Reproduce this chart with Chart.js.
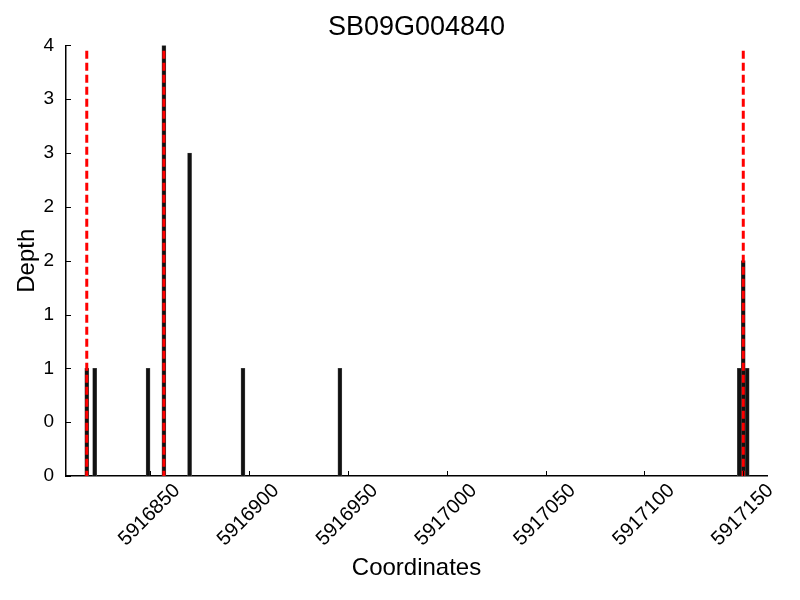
<!DOCTYPE html>
<html>
<head>
<meta charset="utf-8">
<title>SB09G004840</title>
<script src="https://cdn.jsdelivr.net/npm/chart.js@4.4.1/dist/chart.umd.min.js"></script>
<style>
    body { margin: 0; background: #fff; }
    #wrap { width: 800px; height: 600px; }
</style>
</head>
<body>
<div id="wrap"><canvas id="depthChart"></canvas></div>
<script>
// Data
const positions = [5916818, 5916822, 5916849, 5916857, 5916870, 5916897, 5916946, 5917148, 5917150, 5917152];
const depths = [1, 1, 1, 4, 3, 1, 1, 1, 2, 1];
const featureLines = [5916818, 5916857, 5917150];
const featureLineTop = 3.95;
const xTicks = [5916850, 5916900, 5916950, 5917000, 5917050, 5917100, 5917150];
const yTicks = [0, 0.5, 1, 1.5, 2, 2.5, 3, 3.5, 4];
const xRange = [5916807.5, 5917162];

Chart.defaults.font.family = "'Liberation Sans', Arial, sans-serif";
Chart.defaults.color = '#000';

// Small inward tick marks, like the original plot
const inwardTicks = {
    id: 'inwardTicks',
    afterDraw(chart) {
        const ctx = chart.ctx;
        const area = chart.chartArea;
        const x = chart.scales.x;
        const y = chart.scales.y;
        ctx.save();
        ctx.strokeStyle = '#000';
        ctx.lineWidth = 1;
        ctx.beginPath();
        y.ticks.forEach(t => {
            const py = Math.round(y.getPixelForValue(t.value)) + 0.5;
            ctx.moveTo(area.left, py);
            ctx.lineTo(area.left + 5, py);
        });
        x.ticks.forEach(t => {
            const px = Math.round(x.getPixelForValue(t.value)) + 0.5;
            ctx.moveTo(px, area.bottom);
            ctx.lineTo(px, area.bottom - 5);
        });
        ctx.stroke();
        ctx.restore();
    }
};

const barData = positions.map((p, i) => ({ x: p, y: depths[i] }));

const lineSets = featureLines.map(p => ({
    type: 'line',
    data: [{ x: p, y: featureLineTop }, { x: p, y: 0 }],
    borderColor: '#ff0000',
    borderWidth: 3,
    borderDash: [8, 4],
    pointRadius: 0,
    fill: false,
    order: 1
}));

new Chart(document.getElementById('depthChart'), {
    type: 'bar',
    data: {
        datasets: [{
            data: barData,
            backgroundColor: '#111',
            borderColor: '#555',
            borderWidth: 0.6,
            barThickness: 4,
            order: 2
        }, ...lineSets]
    },
    options: {
        responsive: true,
        maintainAspectRatio: false,
        animation: false,
        layout: { padding: { left: 0, right: 33, top: 0, bottom: 0 } },
        plugins: {
            legend: { display: false },
            tooltip: { enabled: false },
            title: {
                display: true,
                fullSize: false,
                text: 'SB09G004840',
                font: { size: 27, weight: 'normal' },
                color: '#000',
                padding: { top: 11, bottom: 2 }
            }
        },
        scales: {
            x: {
                type: 'linear',
                offset: false,
                min: xRange[0],
                max: xRange[1],
                afterBuildTicks: s => { s.ticks = xTicks.map(v => ({ value: v })); },
                afterFit: s => { s.height = 124; },
                grid: { display: false, drawTicks: false },
                border: { display: true, color: '#000', width: 1.5 },
                ticks: {
                    autoSkip: false,
                    minRotation: 45,
                    maxRotation: 45,
                    labelOffset: 27,
                    padding: 3,
                    font: { size: 20 },
                    callback: v => String(v)
                },
                title: {
                    display: true,
                    text: 'Coordinates',
                    font: { size: 24 },
                    padding: { top: 0, bottom: 17 }
                }
            },
            y: {
                min: 0,
                max: 4,
                afterBuildTicks: s => { s.ticks = yTicks.map(v => ({ value: v })); },
                afterFit: s => { s.width = 66; },
                grid: { display: false, drawTicks: false },
                border: { display: true, color: '#000', width: 1.5 },
                ticks: {
                    padding: 12,
                    font: { size: 19 },
                    callback: v => String(Math.floor(v))
                },
                title: {
                    display: true,
                    text: 'Depth',
                    font: { size: 24 },
                    padding: { top: 13, bottom: 0 }
                }
            }
        }
    },
    plugins: [inwardTicks]
});
</script>
</body>
</html>
